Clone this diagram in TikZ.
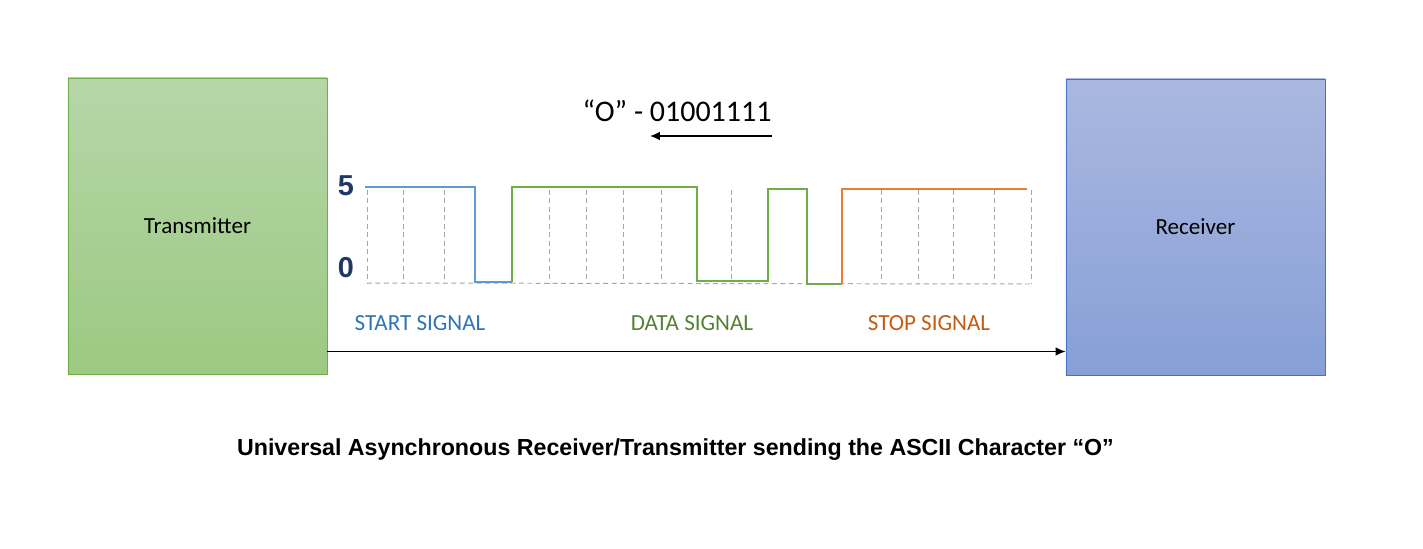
\documentclass[tikz,border=0pt]{standalone}
\usepackage{fontspec}
\setmainfont{Carlito}
\newfontfamily\arialbold[BoldFont={Liberation Sans Bold}]{Liberation Sans}
\usepackage{tikz}
\usetikzlibrary{arrows.meta,positioning,calc}

\definecolor{txtop}{HTML}{B6D6A8}
\definecolor{txbot}{HTML}{9CC982}
\definecolor{txline}{HTML}{70AD47}
\definecolor{rxtop}{HTML}{AAB8E0}
\definecolor{rxbot}{HTML}{879FD7}
\definecolor{rxline}{HTML}{4472C4}
\definecolor{startblue}{HTML}{5B9BD5}
\definecolor{datagreen}{HTML}{70AD47}
\definecolor{stoporange}{HTML}{ED7D31}
\definecolor{startlbl}{HTML}{2E75B6}
\definecolor{datalbl}{HTML}{538135}
\definecolor{stoplbl}{HTML}{C55A11}
\definecolor{levelblue}{HTML}{1F3864}
\definecolor{gridgray}{HTML}{A6A6A6}

\begin{document}
\begin{tikzpicture}[x=0.025cm, y=-0.025cm, font=\fontsize{16.4}{19}\selectfont]
\tikzstyle{unit}=[draw, line width=0.6pt, inner sep=0, minimum width=6.475cm, minimum height=7.4cm]
\tikzstyle{txunit}=[unit, draw=txline, top color=txtop, bottom color=txbot]
\tikzstyle{rxunit}=[unit, draw=rxline, top color=rxtop, bottom color=rxbot]
\tikzstyle{level}=[font=\arialbold\bfseries\fontsize{20.5}{23}\selectfont, text=levelblue]
\tikzstyle{grid}=[gridgray, line width=0.7pt, dash pattern=on 3.5pt off 2.5pt]
\tikzstyle{wave}=[line width=1.5pt]
\useasboundingbox (0,0) rectangle (1423,548);
\node[txunit] (tx) at (197.5,226) {Transmitter};
\node[rxunit] (rx) at (1195.5,227) {Receiver};
\node (code) at (677,111) {\fontsize{21.3}{24}\selectfont “O” - 01001111};
\coordinate (codeR) at (772,136);
\coordinate (codeL) at (650,136);
\draw[-{Latex[length=7pt,width=6pt]}, line width=0.8pt] (codeR) -- (codeL);
\node[level] (five) at (346,186) {5};
\node[level] (zero) at (346,268) {0};
% grid
\foreach \gx in {367,403,444,549,586,623,661,731,881,918,953,994,1031}
  \draw[grid] (\gx,190) -- (\gx,283);
\draw[grid] (367,283) -- (1031,284);
% signal
\draw[wave, startblue] (365,187) -- (475,187) -- (475,282) -- (512,282);
\draw[wave, datagreen] (512,282) -- (512,187) -- (697,187) -- (697,281) -- (768,281) -- (768,189) -- (807,189) -- (807,284) -- (842,284);
\draw[wave, stoporange] (842,284) -- (842,189) -- (1027,189);
\node[text=startlbl] (startlbl) at (420,323) {START SIGNAL};
\node[text=datalbl] (datalbl) at (692,323) {DATA SIGNAL};
\node[text=stoplbl] (stoplbl) at (929,323) {STOP SIGNAL};
\coordinate (link) at (327,351.5);
\draw[-{Latex[length=7pt,width=6pt]}, line width=0.8pt] (tx.east |- link) -- (rx.west |- link);
\node (caption) at (675.5,450) {\arialbold\bfseries\fontsize{16.5}{19}\selectfont Universal Asynchronous Receiver/Transmitter sending the ASCII Character “O”};
\end{tikzpicture}
\end{document}
